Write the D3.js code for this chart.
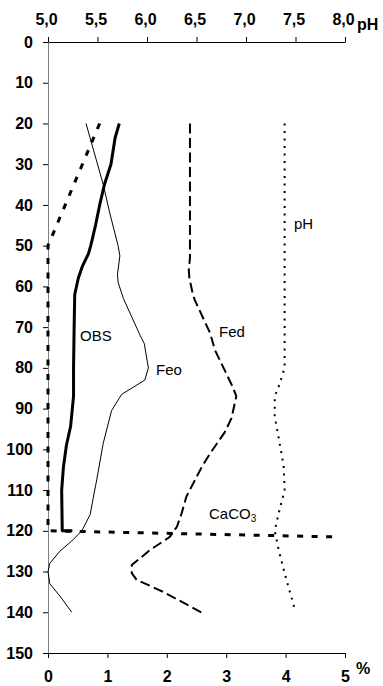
<!DOCTYPE html>
<html><head><meta charset="utf-8">
<script src="https://cdn.jsdelivr.net/npm/d3@7"></script>
<style>body{margin:0;background:#fff}svg{display:block}</style>
</head><body>
<script>
// ---- data ----
const depthTicks = [0,10,20,30,40,50,60,70,80,90,100,110,120,130,140,150];
const pctTicks = [0,1,2,3,4,5];
const phTicks = [5.0,5.5,6.0,6.5,7.0,7.5,8.0];

const obsDepth  = [20,23.5,30,35,40,45,50,52,55,58,62,70,80,87,94.4,99,104.3,110,120,120];
const obsValues = [1.2,1.13,1.06,0.95,0.87,0.8,0.72,0.68,0.58,0.51,0.45,0.44,0.43,0.43,0.38,0.31,0.26,0.23,0.24,0.41];

const feoDepth  = [20,35,42,50,52.5,57,59,63,72,74,80,83,86.5,90.5,98.5,107.5,112,116,120,122.5,125,128,130,133,136,140];
const feoValues = [0.64,0.93,1.04,1.18,1.21,1.17,1.18,1.27,1.55,1.62,1.69,1.63,1.24,1.07,0.93,0.82,0.76,0.71,0.57,0.4,0.2,0.03,0,0.03,0.2,0.4];

const fedDepth  = [20,53,56,58,62,63.3,71.5,75.6,85,87,92.3,95.7,101,104.3,111.6,115.7,119,121.5,124.7,128.4,130.4,132,135,140];
const fedValues = [2.39,2.39,2.37,2.38,2.44,2.47,2.73,2.81,3.12,3.17,3.09,2.98,2.73,2.59,2.33,2.25,2.17,2.05,1.72,1.41,1.41,1.49,1.94,2.58];

const phDepth  = [20,80,84.6,87,92,98.5,104,110,115.7,120,124.7,130.4,139];
const phValues = [7.39,7.39,7.33,7.29,7.29,7.34,7.38,7.39,7.33,7.29,7.33,7.39,7.49];

const caco3Depth  = [20,50,120,121.5];
const caco3Values = [0.87,0,0,4.83];

// ---- drawing ----
const W = 383, H = 686;
const svg = d3.select("body").append("svg").attr("width", W).attr("height", H)
  .style("background", "#fff");

const xPct = d3.scaleLinear().domain([0,5]).range([48,345]);
const xPH  = d3.scaleLinear().domain([5,8]).range([48,345]);
const y    = d3.scaleLinear().domain([0,150]).range([42,653]);

const font = "Arial, 'Liberation Sans', sans-serif";
const tickFs = 16;

// left axis
const gL = svg.append("g").attr("transform", `translate(${xPct(0)},0)`)
  .call(d3.axisLeft(y).tickValues(depthTicks).tickSize(5).tickSizeOuter(0).tickPadding(10));
gL.select(".domain").attr("stroke", "#808080");
gL.selectAll(".tick line").attr("stroke", "#000");
gL.selectAll(".tick text").attr("font-family", font).attr("font-size", tickFs)
  .attr("font-weight", "bold").attr("fill", "#000");

// top axis (pH)
const gT = svg.append("g").attr("transform", `translate(0,${y(0)})`)
  .call(d3.axisTop(xPH).tickValues(phTicks).tickSize(5).tickSizeOuter(0)
    .tickFormat(d => d3.format(".1f")(d).replace(".", ",")));
gT.select(".domain").attr("stroke", "#000");
gT.selectAll(".tick text").attr("font-family", font).attr("font-size", tickFs)
  .attr("font-weight", "bold").attr("fill", "#000")
  .attr("y", -17).attr("dy", 0).attr("dx", -2);
svg.append("text").attr("x", xPH(8) + 12).attr("y", 30).text("pH")
  .attr("font-family", font).attr("font-size", tickFs).attr("font-weight", "bold");

// bottom axis (%)
const gB = svg.append("g").attr("transform", `translate(0,${y(150)})`)
  .call(d3.axisBottom(xPct).tickValues(pctTicks).tickSize(5).tickSizeOuter(0).tickFormat(d3.format("d")));
gB.select(".domain").attr("stroke", "#000");
gB.selectAll(".tick text").attr("font-family", font).attr("font-size", tickFs)
  .attr("font-weight", "bold").attr("fill", "#000")
  .attr("y", 29).attr("dy", 0);
svg.append("text").attr("x", xPct(5) + 11).attr("y", 674).text("%")
  .attr("font-family", font).attr("font-size", tickFs).attr("font-weight", "bold");

// series
function draw(depths, values, xs, style) {
  const pts = depths.map((d, i) => [xs(values[i]), y(d)]);
  svg.append("path").datum(pts)
    .attr("d", d3.line())
    .attr("fill", "none").attr("stroke", "#000")
    .attr("stroke-width", style.w)
    .attr("stroke-dasharray", style.dash || null)
    .attr("stroke-linejoin", "round");
}
draw(feoDepth, feoValues, xPct, {w: 1});
draw(fedDepth, fedValues, xPct, {w: 2, dash: "10,4.5"});
draw(phDepth, phValues, xPH, {w: 2, dash: "2,5.5"});
draw(caco3Depth, caco3Values, xPct, {w: 3, dash: "6,8.5"});
draw(obsDepth, obsValues, xPct, {w: 3});

// labels
const labels = [
  {t: "OBS", v: 0.54, d: 73.4},
  {t: "Feo", v: 1.82, d: 81.8},
  {t: "Fed", v: 2.88, d: 72.4},
  {t: "pH",  v: 4.14, d: 45.9}
];
labels.forEach(l => {
  svg.append("text").attr("x", xPct(l.v)).attr("y", y(l.d)).text(l.t)
    .attr("font-family", font).attr("font-size", 15);
});
const ca = svg.append("text").attr("x", xPct(2.71)).attr("y", y(117.1))
  .attr("font-family", font).attr("font-size", 15);
ca.append("tspan").text("CaCO");
ca.append("tspan").text("3").attr("font-size", 10).attr("dy", 3);
</script>
</body></html>
